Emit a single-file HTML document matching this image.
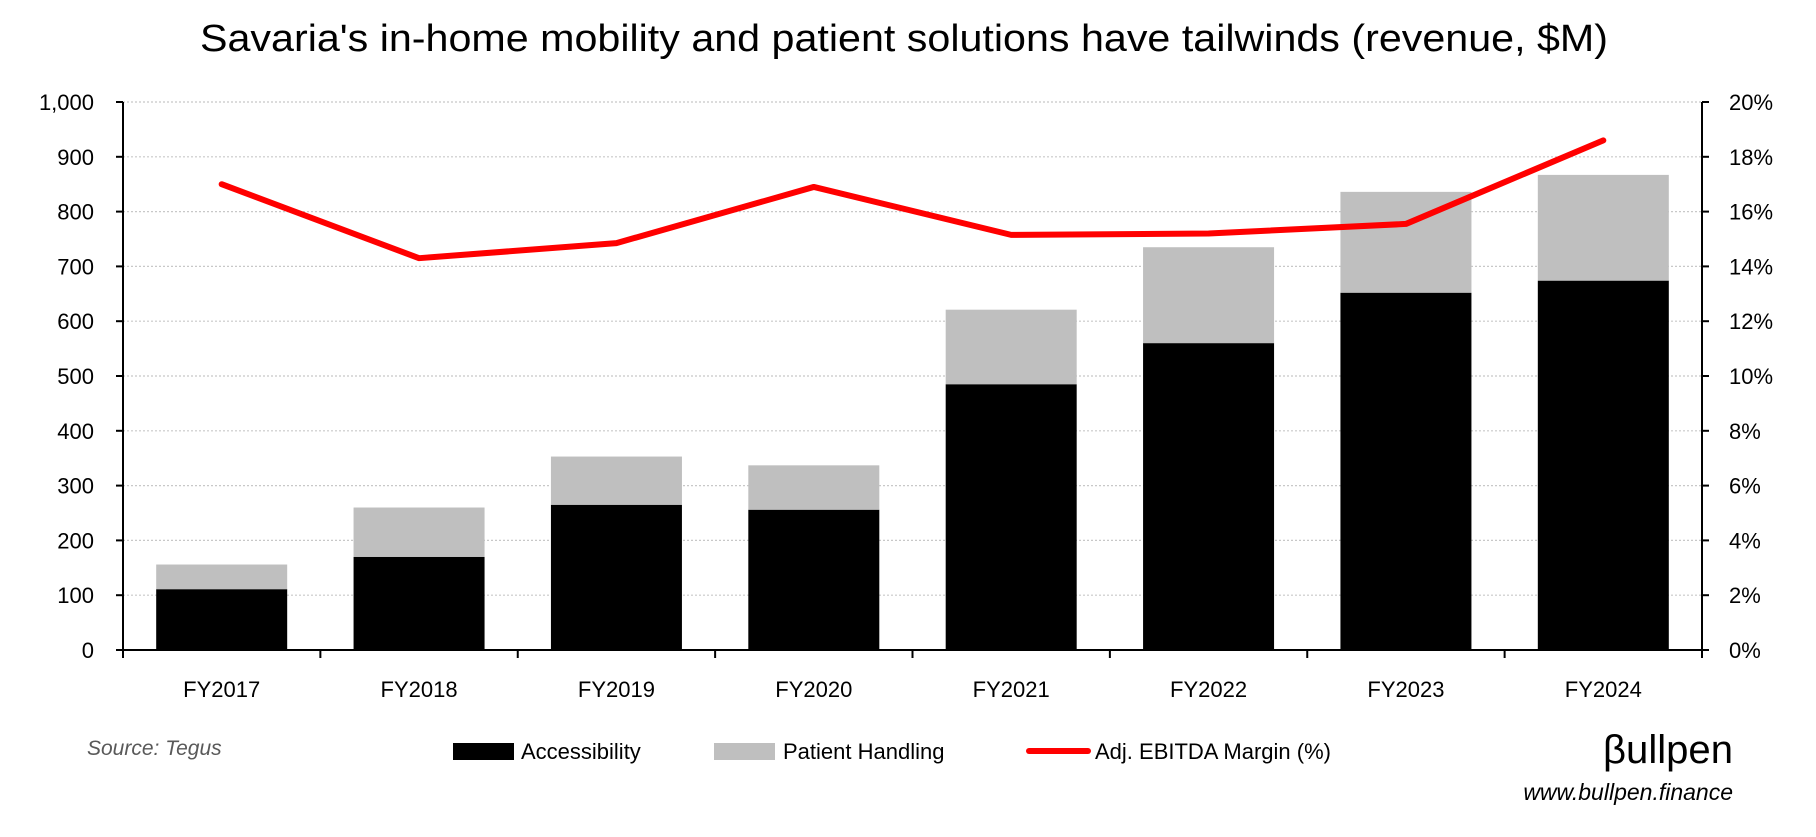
<!DOCTYPE html>
<html><head><meta charset="utf-8"><style>
body{margin:0;background:#fff;}
svg text{font-family:"Liberation Sans",sans-serif;fill:#000;}
</style></head><body>
<svg id="chart" width="1816" height="832" viewBox="0 0 1816 832" xmlns="http://www.w3.org/2000/svg">
<text x="904" y="51" font-size="38" text-anchor="middle" textLength="1408" lengthAdjust="spacingAndGlyphs">Savaria's in-home mobility and patient solutions have tailwinds (revenue, $M)</text>
<g id="grid"></g><g id="bars"></g><g id="axes"></g><g id="line"></g>
<text x="87" y="755" font-size="21" font-style="italic" fill="#595959" style="fill:#595959">Source: Tegus</text>
<rect x="453" y="743" width="61" height="17" fill="#000"/>
<text x="521" y="759" font-size="22">Accessibility</text>
<rect x="714" y="743" width="61" height="17" fill="#bfbfbf"/>
<text x="783" y="759" font-size="22">Patient Handling</text>
<line x1="1029" y1="751" x2="1088" y2="751" stroke="#ff0000" stroke-width="6" stroke-linecap="round"/>
<text x="1095" y="759" font-size="22">Adj. EBITDA Margin (%)</text>
<text x="1603" y="763" font-size="40" textLength="130" lengthAdjust="spacingAndGlyphs">βullpen</text>
<text x="1733" y="800" font-size="23" font-style="italic" text-anchor="end">www.bullpen.finance</text>
</svg>
<script>
const categories=["FY2017","FY2018","FY2019","FY2020","FY2021","FY2022","FY2023","FY2024"];
const accessibility=[111,170,265,256,485,560,652,674];
const patientHandling=[45,90,88,81,136,175,184,193];
const ebitdaMargin=[17.0,14.3,14.85,16.9,15.15,15.2,15.55,18.6];
const leftTicks=[0,100,200,300,400,500,600,700,800,900,1000];
const rightTicks=[0,2,4,6,8,10,12,14,16,18,20];
const NS="http://www.w3.org/2000/svg";
const X0=123,X1=1702,Y0=650,Y1=102;
const band=(X1-X0)/categories.length;
const xC=i=>X0+band*(i+0.5);
const yL=v=>Y0-(v/1000)*(Y0-Y1);
const yR=v=>Y0-(v/20)*(Y0-Y1);
function mk(tag,attrs,parent){const e=document.createElementNS(NS,tag);for(const k in attrs)e.setAttribute(k,attrs[k]);document.getElementById(parent).appendChild(e);return e;}
leftTicks.forEach((t,i)=>{
  if(t>0){const g=mk('line',{x1:X0,x2:X1,y1:yL(t),y2:yL(t),stroke:'#c8c8c8','stroke-width':1.2,'stroke-dasharray':'2 2'},'grid');
  
  }
  const tk=mk('line',{x1:X0-7,x2:X0,y1:yL(t),y2:yL(t),stroke:'#000','stroke-width':2},'axes');
  
  
  const l=mk('text',{x:94,y:yL(t)+8,'font-size':22,'text-anchor':'end'},'axes');
  l.textContent=t.toLocaleString('en-US');
  
  
});
rightTicks.forEach(t=>{
  const tk=mk('line',{x1:X1,x2:X1+7,y1:yR(t),y2:yR(t),stroke:'#000','stroke-width':2},'axes');
  
  
  const l=mk('text',{x:1729,y:yR(t)+8,'font-size':22},'axes');
  l.textContent=t+'%';
  
  
});
const bw=131;
categories.forEach((c,i)=>{
  const a=mk('rect',{x:xC(i)-bw/2,y:yL(accessibility[i]),width:bw,height:Y0-yL(accessibility[i]),fill:'#000'},'bars');
  
  
  const top=accessibility[i]+patientHandling[i];
  const p=mk('rect',{x:xC(i)-bw/2,y:yL(top),width:bw,height:yL(accessibility[i])-yL(top),fill:'#bfbfbf'},'bars');
  
  
  const l=mk('text',{x:xC(i),y:697,'font-size':22,'text-anchor':'middle'},'axes');
  l.textContent=c;
  
  
});
for(let i=0;i<=categories.length;i++){
  const tk=mk('line',{x1:X0+band*i,x2:X0+band*i,y1:Y0,y2:Y0+8,stroke:'#000','stroke-width':2},'axes');
  
  
}
const ax1=mk('line',{x1:X0,x2:X0,y1:Y1,y2:Y0,stroke:'#000','stroke-width':2},'axes');


const ax2=mk('line',{x1:X1,x2:X1,y1:Y1,y2:Y0,stroke:'#000','stroke-width':2},'axes');


const ax3=mk('line',{x1:X0,x2:X1,y1:Y0,y2:Y0,stroke:'#000','stroke-width':2},'axes');


const pts=ebitdaMargin.map((v,i)=>xC(i)+','+yR(v)).join(' ');
const pl=mk('polyline',{points:pts,fill:'none',stroke:'#ff0000','stroke-width':6,'stroke-linejoin':'round','stroke-linecap':'round'},'line');


</script>
</body></html>
